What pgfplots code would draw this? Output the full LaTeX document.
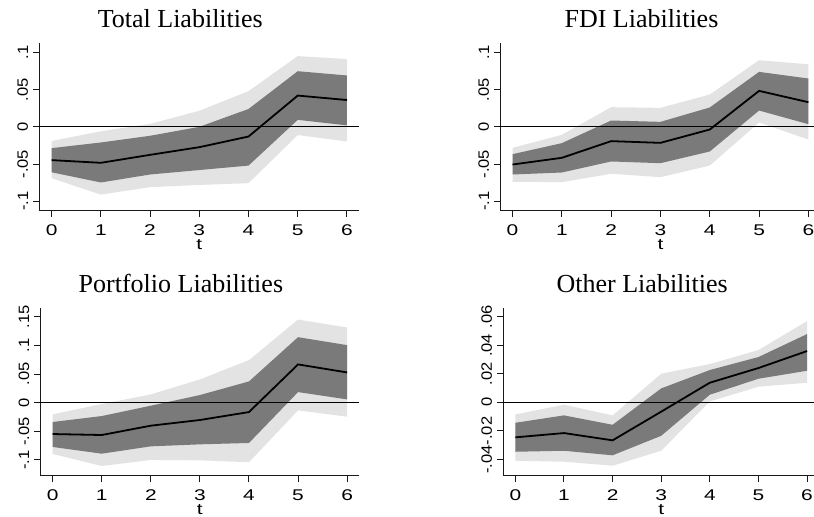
\documentclass[border=0pt]{standalone}
\usepackage{fontspec}
\setmainfont{Liberation Sans}
\newfontfamily\serifttl{Liberation Serif}
\newfontfamily\xtickfont[FakeStretch=1.35]{Liberation Sans}
\newfontfamily\ytickfont[FakeStretch=1.1]{Liberation Sans}
\usepackage{pgfplots}
\usepackage{pgfplotstable}
\usepgfplotslibrary{fillbetween}
\pgfplotsset{compat=1.18}
\definecolor{outerband}{HTML}{E3E3E3}
\definecolor{innerband}{HTML}{7A7A7A}

\pgfplotstableread{
t est ilo ihi olo ohi
0 -0.0447 -0.061 -0.0286 -0.069 -0.019
1 -0.0483 -0.0747 -0.021 -0.091 -0.006
2 -0.0376 -0.064 -0.012 -0.081 0.004
3 -0.0273 -0.058 0.000 -0.078 0.0215
4 -0.013 -0.052 0.024 -0.0756 0.048
5 0.042 0.0094 0.0747 -0.011 0.095
6 0.036 0.002 0.069 -0.0197 0.091
}\total
\pgfplotstableread{
t est ilo ihi olo ohi
0 -0.0506 -0.064 -0.0367 -0.0738 -0.0282
1 -0.0416 -0.0613 -0.0219 -0.0743 -0.0107
2 -0.0192 -0.0465 0.0085 -0.063 0.0264
3 -0.0215 -0.0488 0.0067 -0.0676 0.0255
4 -0.0036 -0.0331 0.026 -0.052 0.0434
5 0.0483 0.0219 0.0738 0.0058 0.0895
6 0.0331 0.0036 0.0649 -0.017 0.084
}\fdi
\pgfplotstableread{
t est ilo ihi olo ohi
0 -0.0547 -0.0773 -0.0337 -0.0895 -0.0203
1 -0.0564 -0.089 -0.0233 -0.1105 -0.0023
2 -0.0401 -0.0762 -0.0052 -0.100 0.0145
3 -0.0302 -0.0727 0.0134 -0.1006 0.0407
4 -0.0163 -0.0703 0.0372 -0.104 0.0744
5 0.0669 0.0186 0.1145 -0.0134 0.1453
6 0.0529 0.0058 0.1006 -0.0244 0.1314
}\portfolio
\pgfplotstableread{
t est ilo ihi olo ohi
0 -0.0245 -0.0346 -0.0143 -0.0409 -0.0084
1 -0.0215 -0.0339 -0.0091 -0.0416 -0.0016
2 -0.0266 -0.0371 -0.0157 -0.0444 -0.0091
3 -0.0065 -0.0234 0.0098 -0.0339 0.0201
4 0.0138 0.0054 0.0227 0.0007 0.0269
5 0.0241 0.0166 0.0318 0.011 0.0367
6 0.036 0.0222 0.0479 0.0138 0.057
}\other

\pgfplotsset{
  irf/.style={
    scale only axis,
    anchor=south west,
    height=168.3bp,
    xmin=-0.25, xmax=6.25,
    axis x line*=bottom, axis y line*=left,
    axis line style={-, line width=1bp, black!90},
    tick align=outside,
    major tick length=6bp,
    tick style={line width=1bp, black!90},
    xtick={0,1,2,3,4,5,6},
    xticklabels={0,1,2,3,4,5,6},
    scaled y ticks=false,
    xlabel={t},
    xticklabel style={font=\xtickfont\fontsize{15.5bp}{17bp}\selectfont,
      anchor=north, inner sep=0bp, yshift=-7.5bp},
    yticklabel style={font=\ytickfont\fontsize{15bp}{17bp}\selectfont,
      rotate=90, anchor=south, inner sep=5bp},
    xlabel style={font=\xtickfont\fontsize{15.5bp}{17bp}\selectfont,
      at={(0.5,0)}, anchor=base, yshift=-38.5bp},
    title style={font=\serifttl\fontsize{26bp}{30bp}\selectfont, anchor=base,
      at={(0.5,1)}, xshift=-19bp, yshift=9.5bp},
    clip=false,
  }
}

\newcommand{\irfplots}[1]{%
  \addplot[draw=none, name path=oh] table[x=t,y=ohi] {#1};
  \addplot[draw=none, name path=ol] table[x=t,y=olo] {#1};
  \addplot[outerband, draw=none] fill between[of=oh and ol];
  \addplot[draw=none, name path=ih] table[x=t,y=ihi] {#1};
  \addplot[draw=none, name path=il] table[x=t,y=ilo] {#1};
  \addplot[innerband, draw=none] fill between[of=ih and il];
  \addplot[black, line width=0.8bp] coordinates {(-0.25,0) (6.25,0)};
  \addplot[black, line width=1.8bp, mark=none] table[x=t,y=est] {#1};
}

\begin{document}
\begin{tikzpicture}

\begin{axis}[irf, at={(39.3bp,306bp)}, width=320bp,
  ymin=-0.113, ymax=0.113,
  ytick={-0.1,-0.05,0,0.05,0.1}, yticklabels={-.1,-.05,0,.05,.1},
  title={Total Liabilities}]
\irfplots{\total}
\end{axis}

\begin{axis}[irf, at={(500.2bp,306bp)}, width=320.5bp,
  ymin=-0.113, ymax=0.113,
  ytick={-0.1,-0.05,0,0.05,0.1}, yticklabels={-.1,-.05,0,.05,.1},
  title={FDI Liabilities}]
\irfplots{\fdi}
\end{axis}

\begin{axis}[irf, at={(40.4bp,41bp)}, width=319bp,
  ymin=-0.128, ymax=0.166,
  ytick={-0.1,-0.05,0,0.05,0.1,0.15}, yticklabels={-.1,-.05,0,.05,.1,.15},
  title={Portfolio Liabilities}]
\irfplots{\portfolio}
\end{axis}

\begin{axis}[irf, at={(503.2bp,41bp)}, width=316bp,
  ymin=-0.0516, ymax=0.0664,
  ytick={-0.04,-0.02,0,0.02,0.04,0.06}, yticklabels={-.04,-.02,0,.02,.04,.06},
  title={Other Liabilities}]
\irfplots{\other}
\end{axis}

\pgfresetboundingbox
\useasboundingbox (0bp,0bp) rectangle (814bp,517bp);
\end{tikzpicture}
\end{document}
